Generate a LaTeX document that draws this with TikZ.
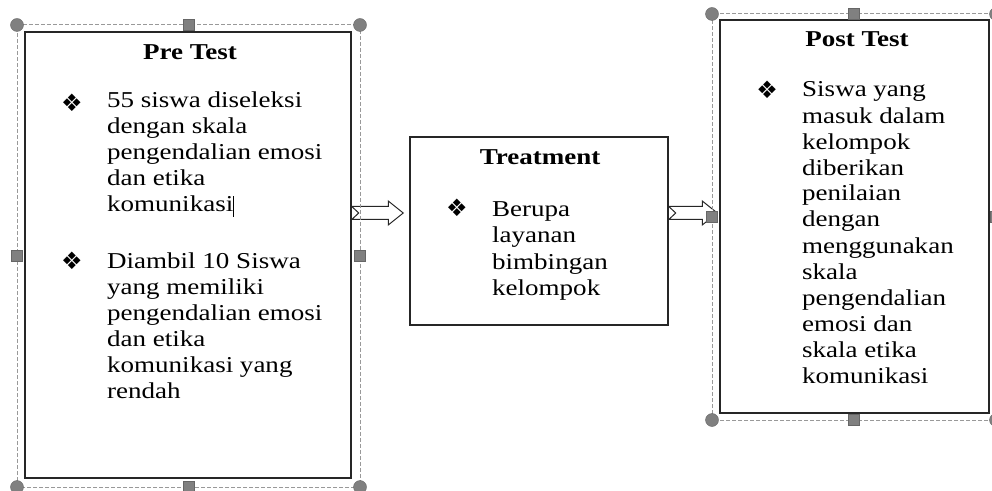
\documentclass[tikz,border=0pt]{standalone}
\usepackage{fontspec}
\setmainfont{Liberation Serif}[FakeStretch=1.19]
\newfontfamily\symfont{DejaVu Sans}
\usetikzlibrary{calc}

\tikzset{
  box/.style={draw=black!85, line width=1.5pt, inner sep=0pt},
  boxtitle/.style={anchor=base, inner sep=0pt, font=\bfseries\fontsize{22.7}{26}\selectfont},
  boxtext/.style={anchor=base west, align=left, inner sep=0pt, font=\fontsize{22.7}{26}\selectfont},
  bullet/.style={inner sep=0pt, font=\symfont\fontsize{24}{24}\selectfont},
  blockarrow/.style={draw=black!85, line width=1pt, fill=white, line join=miter},
  frame/.style={draw=black!40, line width=1pt, dash pattern=on 4pt off 2pt},
  handle/.style={fill=black!50, draw=black!60, line width=0.4pt}
}

\begin{document}
\begin{tikzpicture}[x=1pt,y=1pt]
  \useasboundingbox (0,0) rectangle (992,490);
  \clip (0,0) rectangle (992,490);

  % the three boxes
  \node[box, minimum width=326pt, minimum height=446pt] (pre) at (188,235) {};
  \node[box, minimum width=258pt, minimum height=188pt] (treat) at (539,259) {};
  \node[box, minimum width=269pt, minimum height=393pt] (post) at (854.5,273.5) {};

  % texts: base west sits on the last line, so first baseline - 26*(lines-1)
  \node[boxtitle] (pretitle) at (190,430) {Pre Test};
  \node[bullet] (prebul1) at (72,387) {❖};
  \node[boxtext] (pretext1) at (107,{382-4*26}) {55 siswa diseleksi\\dengan skala\\pengendalian emosi\\dan etika\\komunikasi\rule[-5pt]{0.9pt}{21pt}};
  \node[bullet] (prebul2) at (72,229) {❖};
  \node[boxtext] (pretext2) at (107,{222-5*26}) {Diambil 10 Siswa\\yang memiliki\\pengendalian emosi\\dan etika\\komunikasi yang\\rendah};

  \node[boxtitle] (treattitle) at (540,325) {Treatment};
  \node[bullet] (treatbul) at (457,282) {❖};
  \node[boxtext] (treattext) at (492,{273-3*26}) {Berupa\\layanan\\bimbingan\\kelompok};

  \node[boxtitle] (posttitle) at (857,443) {Post Test};
  \node[bullet] (postbul) at (767,400) {❖};
  \node[boxtext] (posttext) at (802,{393-11*26}) {Siswa yang\\masuk dalam\\kelompok\\diberikan\\penilaian\\dengan\\menggunakan\\skala\\pengendalian\\emosi dan\\skala etika\\komunikasi};

  % block arrows between the boxes
  \coordinate (ay) at (0,277);
  \foreach \from/\to/\gap in {pre/treat/6, treat/post/2} {
    \coordinate (tail) at (\from.east |- ay);
    \coordinate (tip) at ([xshift=-\gap pt]\to.west |- ay);
    \path[blockarrow] ($(tail)+(0,6.5)$) -- ($(tip)+(-15,6.5)$) -- ($(tip)+(-15,12)$) -- (tip)
      -- ($(tip)+(-15,-12)$) -- ($(tip)+(-15,-6.5)$) -- ($(tail)+(0,-6.5)$) -- ($(tail)+(7,0)$) -- cycle;
  }

  % selection frames with their handles
  \path[frame] (17,3) rectangle (360,465);
  \path[frame] (712,70) rectangle (996,476);
  \foreach \x/\y in {17/3, 360/3, 17/465, 360/465, 712/70, 996/70, 712/476, 996/476}
    \path[handle] (\x,\y) circle (6.5);
  \foreach \x/\y in {188.5/3, 188.5/465, 17/234, 360/234, 854/70, 854/476, 712/273, 996/273}
    \path[handle] (\x-5.5,\y-5.5) rectangle (\x+5.5,\y+5.5);
\end{tikzpicture}
\end{document}
